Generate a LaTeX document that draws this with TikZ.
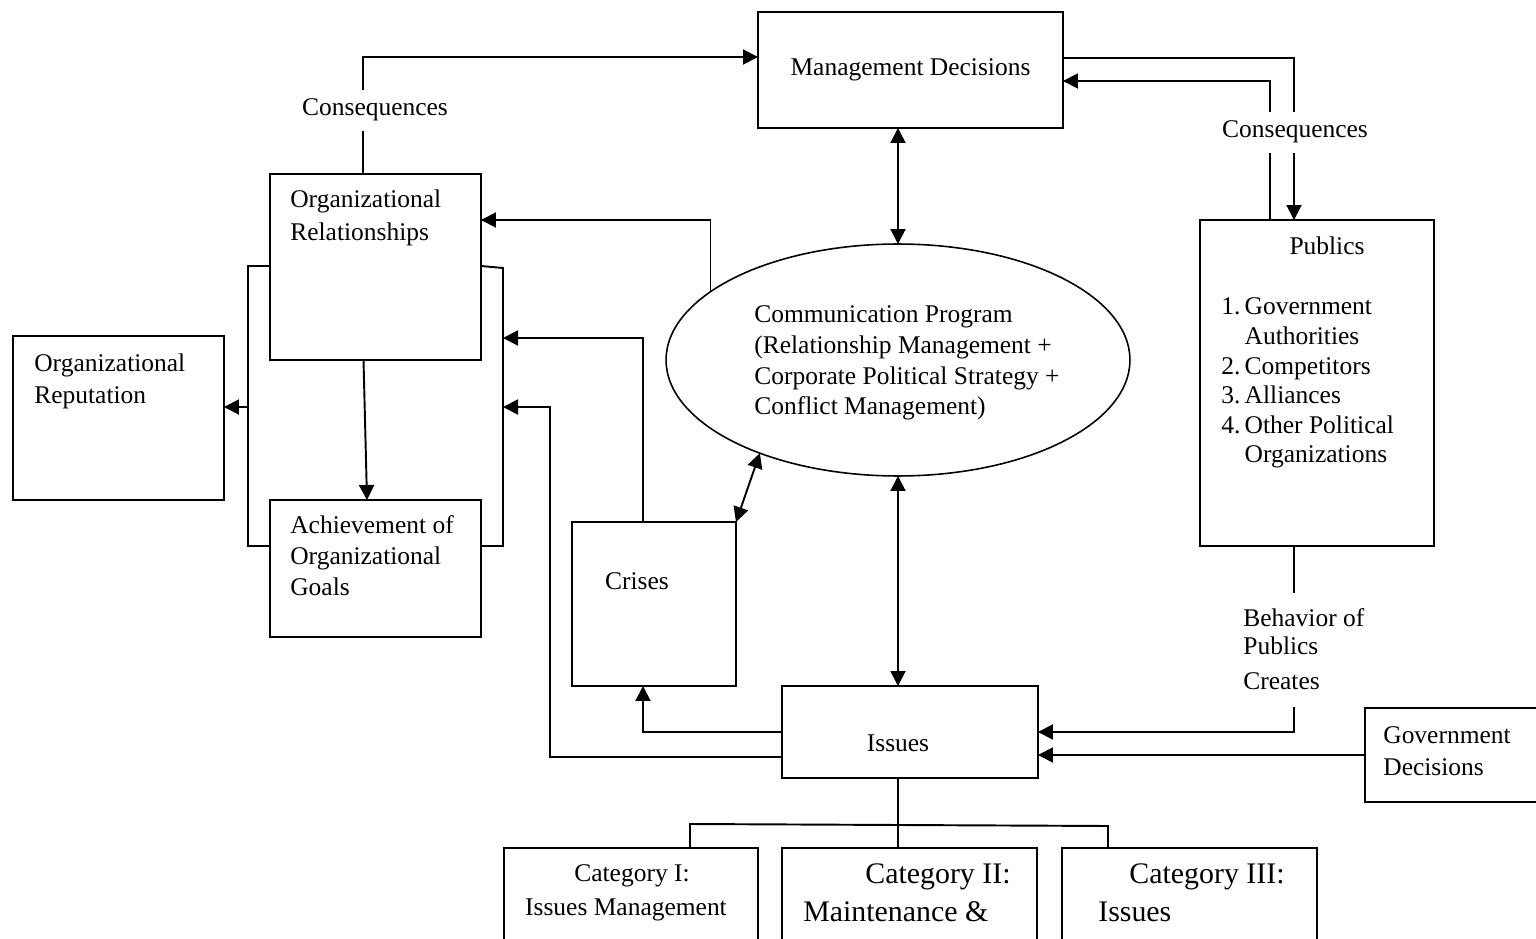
\documentclass[tikz,border=0pt]{standalone}
\usepackage{fontspec}
\setmainfont{Liberation Serif}
\usetikzlibrary{arrows.meta,calc,positioning,shapes.geometric}

\tikzset{
  box/.style={draw, line width=1.1pt, outer sep=0pt, inner sep=0pt},
  txt/.style={inner sep=0pt, align=left},
  link/.style={line width=1.1pt},
  arr/.style={link, -{Triangle[length=0.3cm,width=0.3cm]}},
  arrs/.style={link, {Triangle[length=0.3cm,width=0.3cm]}-{Triangle[length=0.3cm,width=0.3cm]}},
}

\begin{document}
\begin{tikzpicture}[x=0.02cm, y=-0.02cm, font=\fontsize{14.5pt}{17.5pt}\selectfont]
  \useasboundingbox (0,0) rectangle (1536,939);

  % boxes
  \node[box, minimum width=6.1cm, minimum height=2.32cm] (mgmt) at (910.5,70) {Management Decisions};
  \node[box, ellipse, minimum width=9.28cm, minimum height=4.64cm, line width=0.9pt] (prog) at (898,360) {};
  \node[txt, anchor=base west] (progtxt) at (754,415) {Communication Program\\(Relationship Management +\\Corporate Political Strategy +\\Conflict Management)};
  \node[box, minimum width=4.22cm, minimum height=3.72cm] (orgrel) at (375.5,267) {};
  \node[txt, anchor=base west, font=\fontsize{14.5pt}{19.3pt}\selectfont] at (290,241) {Organizational\\Relationships};
  \node[box, minimum width=4.22cm, minimum height=2.74cm] (achieve) at (375.5,568.5) {};
  \node[txt, anchor=base west] at (290,595) {Achievement of\\Organizational\\Goals};
  \node[box, minimum width=4.22cm, minimum height=3.28cm] (orgrep) at (118.5,418) {};
  \node[txt, anchor=base west, font=\fontsize{14.5pt}{18.1pt}\selectfont] at (34,403) {Organizational\\Reputation};
  \node[box, minimum width=3.28cm, minimum height=3.28cm] (crises) at (654,604) {};
  \node[txt, anchor=base] at (637,589) {Crises};
  \node[box, minimum width=5.12cm, minimum height=1.84cm] (issues) at (910,732) {};
  \node[txt, anchor=base] at (898,751) {Issues};
  \node[box, minimum width=4.68cm, minimum height=6.52cm] (pub) at (1317,383) {};
  \node[txt, anchor=base] at (1327,255) {Publics};
  \node[txt, anchor=base west, font=\fontsize{14.5pt}{16.8pt}\selectfont] at (1221,315)
    {\begin{tabular}[t]{@{}r@{\,}l@{}}1.&Government\\&Authorities\\2.&Competitors\\3.&Alliances\\4.&Other Political\\&Organizations\end{tabular}};
  \node[box, minimum width=3.6cm, minimum height=1.88cm] (gov) at (1455,755) {};
  \node[txt, anchor=base west, font=\fontsize{14.5pt}{18.1pt}\selectfont] at (1383,775) {Government\\Decisions};
  \node[txt, anchor=base west, font=\fontsize{14.5pt}{16.4pt}\selectfont] (behav) at (1243,689) {Behavior of\\Publics\\[3pt]Creates};
  \node[txt, anchor=base, inner sep=5pt] (consL) at (375,116) {Consequences};
  \node[txt, anchor=base, inner sep=5pt] (consR) at (1295,138) {Consequences};

  % issue categories
  \node[box, minimum width=5.08cm, minimum height=3.04cm] (cat1) at (631,924) {};
  \node[txt, anchor=base] at (632,881) {Category I:};
  \node[txt, anchor=base] at (626,915) {Issues Management};
  \node[box, minimum width=5.1cm, minimum height=3.04cm] (cat2) at (909.5,924) {};
  \node[txt, anchor=base, font=\fontsize{17pt}{20pt}\selectfont] at (938,883) {Category II:};
  \node[txt, anchor=base west, font=\fontsize{17pt}{20pt}\selectfont] at (803,921) {Maintenance \&};
  \node[box, minimum width=5.1cm, minimum height=3.04cm] (cat3) at (1189.5,924) {};
  \node[txt, anchor=base, font=\fontsize{17pt}{20pt}\selectfont] at (1207,883) {Category III:};
  \node[txt, anchor=base west, font=\fontsize{17pt}{20pt}\selectfont] at (1098,921) {Issues};

  % bend points
  \coordinate (kl) at (363,57);
  \coordinate (kr1) at (1294,58);
  \coordinate (kr2) at (1270,81);
  \coordinate (kc) at (712,220);
  \coordinate (lb1) at (248,266);
  \coordinate (lb2) at (248,546);
  \coordinate (lb3) at (248,407);
  \coordinate (rb0) at (503,268);
  \coordinate (rb1) at (503,338);
  \coordinate (rb2) at (503,407);
  \coordinate (rb3) at (503,546);
  \coordinate (kb) at (550,407);
  \coordinate (kp) at (1294,707);
  \coordinate (bl) at (690,824);
  \coordinate (br) at (1108,826);

  % consequences
  \draw[link] (orgrel.north -| kl) -- (consL.south -| kl);
  \draw[arr] (consL.north -| kl) -- (kl) -- (kl -| mgmt.west);
  \draw[link] (mgmt.east |- kr1) -- (kr1) -- (kr1 |- consR.north);
  \draw[arr] (kr1 |- consR.south) -- (kr1 |- pub.north);
  \draw[link] (pub.north -| kr2) -- (consR.south -| kr2);
  \draw[arr] (consR.north -| kr2) -- (kr2) -- (kr2 -| mgmt.east);

  % program
  \draw[arrs] (prog.north |- mgmt.south) -- (prog.north);
  \draw[arrs] (prog.south) -- (prog.south |- issues.north);
  \draw[arrs] (crises.north east) -- (prog.214);
  \draw[arr] (prog.160) |- (orgrel.east |- kc);

  % issues and crises
  \draw[arr] (issues.west) -| ([xshift=-0.22cm]crises.south);
  \draw[arr] ([yshift=-0.5cm]issues.west) -| (kb) -- (rb2);
  \draw[arr] ([xshift=-0.22cm]crises.north) |- (rb1);
  \draw[link] (pub.south -| kr1) -- ++(0,47);
  \draw[arr] (kp) |- (issues.east);
  \draw[arr] (gov.west) -- (gov.west -| issues.east);
  \draw[link] (prog.south |- issues.south) -- (prog.south |- cat2.north);
  \draw[link] (bl |- cat1.north) -- (bl) -- (br) -- (br |- cat3.north);

  % relationships, goals, reputation
  \draw[link] (orgrel.west |- lb1) -- (lb1) -- (lb2) -- (lb2 -| achieve.west);
  \draw[arr] (lb3) -- (lb3 -| orgrep.east);
  \draw[link] (orgrel.east |- lb1) -- (rb0) -- (rb3) -- (rb3 -| achieve.east);
  \draw[arr] ([xshift=-0.24cm]orgrel.south) -- ([xshift=-0.17cm]achieve.north);
\end{tikzpicture}
\end{document}
